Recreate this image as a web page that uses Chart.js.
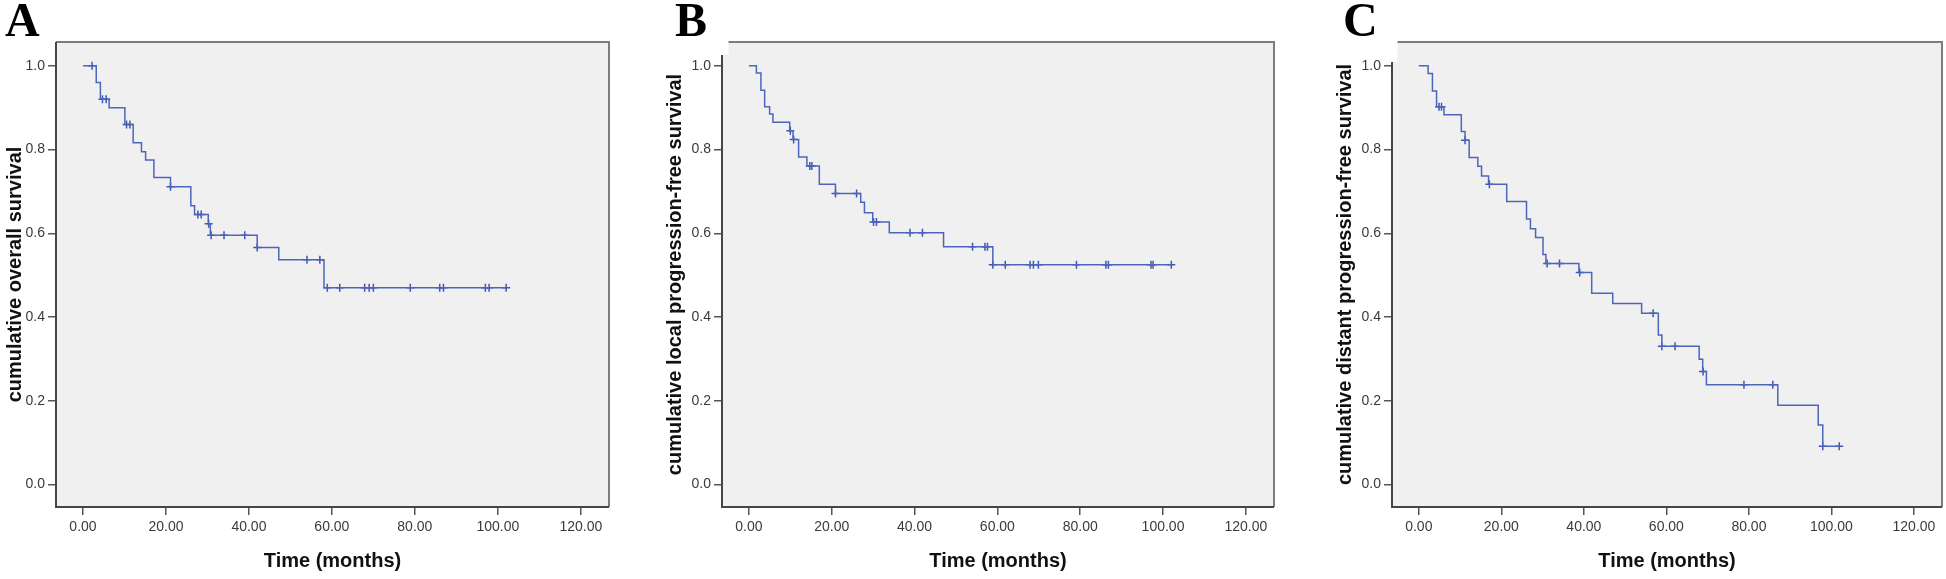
<!DOCTYPE html>
<html>
<head>
<meta charset="utf-8">
<script src="https://cdn.jsdelivr.net/npm/chart.js@4.4.0/dist/chart.umd.min.js"></script>
<style>
  body { margin: 0; background: #fff; width: 1946px; height: 579px; overflow: hidden; position: relative; }
  canvas { position: absolute; top: 0; }
  .lbl { position: absolute; top: -4px; font: bold 48px 'Liberation Serif', 'Times New Roman', serif; line-height: 48px; color: #000; }
</style>
</head>
<body>
<canvas id="chartA" width="650" height="579" style="left:0px"></canvas>
<canvas id="chartB" width="670" height="579" style="left:650px"></canvas>
<canvas id="chartC" width="626" height="579" style="left:1320px"></canvas>
<div class="lbl" style="left:5px">A</div>
<div class="lbl" style="left:675px">B</div>
<div class="lbl" style="left:1343px">C</div>
<script>
// axis ticks
const xTicks = [0, 20, 40, 60, 80, 100, 120];
const yTicks = [0, 0.2, 0.4, 0.6, 0.8, 1.0];

// A: overall survival (step points, censor marks)
const timeA = [0, 3.2, 4.2, 6.3, 10.1, 12.1, 14.1, 15.1, 17.1, 21.1, 26.0, 26.9, 30.2, 30.7, 42.0, 47.2, 58.1, 102.0];
const survA = [1.0, 0.960, 0.920, 0.900, 0.860, 0.816, 0.795, 0.775, 0.733, 0.711, 0.666, 0.645, 0.623, 0.595, 0.566, 0.537, 0.470, 0.470];
const censTimeA = [2.2, 4.7, 5.6, 10.5, 11.3, 21.1, 27.7, 28.5, 30.3, 30.9, 34.0, 39.0, 42.0, 54.0, 57.1, 58.9, 61.9, 67.9, 69.0, 70.0, 78.9, 86.0, 86.9, 97.0, 97.9, 102.0];
const censSurvA = [1.0, 0.920, 0.920, 0.860, 0.860, 0.711, 0.645, 0.645, 0.623, 0.595, 0.595, 0.595, 0.566, 0.537, 0.537, 0.470, 0.470, 0.470, 0.470, 0.470, 0.470, 0.470, 0.470, 0.470, 0.470, 0.470];

// B: local progression-free survival
const timeB = [0, 1.8, 2.9, 3.8, 5.0, 5.8, 9.85, 10.65, 12.0, 14.0, 17.0, 20.9, 27.0, 27.9, 29.9, 33.9, 47.0, 58.9, 102.0];
const survB = [1.0, 0.983, 0.942, 0.902, 0.885, 0.865, 0.845, 0.824, 0.782, 0.761, 0.717, 0.695, 0.674, 0.649, 0.627, 0.601, 0.568, 0.525, 0.525];
const censTimeB = [10.0, 10.8, 14.7, 15.2, 20.9, 26.0, 30.1, 30.8, 38.9, 41.9, 54.0, 57.0, 57.6, 58.9, 61.9, 67.9, 68.7, 69.9, 79.1, 86.2, 86.8, 97.1, 97.6, 102.0];
const censSurvB = [0.845, 0.824, 0.761, 0.761, 0.695, 0.695, 0.627, 0.627, 0.601, 0.601, 0.568, 0.568, 0.568, 0.525, 0.525, 0.525, 0.525, 0.525, 0.525, 0.525, 0.525, 0.525, 0.525, 0.525];

// C: distant progression-free survival
const timeC = [0, 2.25, 3.3, 4.3, 6.1, 10.3, 11.2, 12.2, 14.3, 15.2, 16.9, 21.3, 26.1, 27.05, 28.3, 30.1, 30.8, 38.8, 41.9, 47.0, 54.0, 58.05, 58.9, 67.95, 68.8, 69.7, 87.0, 96.8, 97.9, 102.0];
const survC = [1.0, 0.982, 0.940, 0.902, 0.883, 0.843, 0.822, 0.781, 0.760, 0.737, 0.717, 0.676, 0.634, 0.611, 0.590, 0.549, 0.528, 0.506, 0.457, 0.432, 0.409, 0.357, 0.330, 0.299, 0.270, 0.238, 0.189, 0.142, 0.091, 0.091];
const censTimeC = [4.9, 5.5, 11.2, 17.1, 31.1, 34.1, 39.0, 56.8, 58.9, 62.1, 68.9, 78.8, 85.8, 97.9, 101.9];
const censSurvC = [0.902, 0.902, 0.822, 0.717, 0.528, 0.528, 0.506, 0.409, 0.330, 0.330, 0.270, 0.238, 0.238, 0.091, 0.091];

Chart.defaults.font.family = "'Liberation Sans', Arial, sans-serif";

const lineColor = "#4d66bb";
const markColor = "#3f57b2";
const tickFont = { size: 14 };
const titleFont = { size: 20, weight: "bold" };

let toPoints = (xs, ys) => xs.map((x, i) => ({ x: x, y: ys[i] }));

// grey plot box + frame, and the white notch left by the panel letter
let boxPlugin = (notch) => ({
  id: "panelBox",
  beforeDraw(chart) {
    const { ctx, chartArea: a } = chart;
    ctx.save();
    ctx.fillStyle = "#f0f0f0";
    ctx.fillRect(a.left, a.top, a.right - a.left, a.bottom - a.top);
    ctx.restore();
  },
  afterDraw(chart) {
    const { ctx, chartArea: a } = chart;
    ctx.save();
    ctx.lineWidth = 2;
    ctx.strokeStyle = "#7c7c7c";
    ctx.beginPath();
    ctx.moveTo(a.left, a.top);
    ctx.lineTo(a.right, a.top);
    ctx.lineTo(a.right, a.bottom);
    ctx.stroke();
    ctx.strokeStyle = "#464646";
    ctx.beginPath();
    ctx.moveTo(a.left, a.top);
    ctx.lineTo(a.left, a.bottom);
    ctx.lineTo(a.right, a.bottom);
    ctx.stroke();
    if (notch) {
      ctx.fillStyle = "#fff";
      ctx.fillRect(a.left - 3, 0, notch[0], notch[1]);
    }
    ctx.restore();
  }
});

let makeChart = (id, steps, cens, yTitle, geo) => {
  const ctx = document.getElementById(id);
  const dataset = {
    datasets: [
      {
        data: steps,
        showLine: true,
        stepped: true,
        borderColor: lineColor,
        borderWidth: 1.5,
        pointRadius: 0,
        fill: false
      },
      {
        data: cens,
        showLine: false,
        pointStyle: "cross",
        pointRadius: 4,
        borderColor: markColor,
        backgroundColor: markColor,
        borderWidth: 1.5
      }
    ]
  };
  const config = {
    type: "scatter",
    data: dataset,
    plugins: [boxPlugin(geo.notch)],
    options: {
      responsive: false,
      animation: false,
      layout: { autoPadding: false, padding: { top: 42, right: geo.pr, bottom: 0, left: 0 } },
      plugins: { legend: { display: false }, tooltip: { enabled: false } },
      scales: {
        x: {
          type: "linear",
          min: -6.5,
          max: 126.8,
          afterBuildTicks: (s) => { s.ticks = xTicks.map((v) => ({ value: v })); },
          afterFit: (s) => { s.height = 72; },
          ticks: { callback: (v) => v.toFixed(2), font: tickFont, color: "#3a3a3a", padding: 4, maxRotation: 0, autoSkip: false },
          grid: { drawOnChartArea: false, drawTicks: true, tickLength: 8, color: "#555", lineWidth: 1.5 },
          border: { display: false },
          title: { display: true, text: "Time (months)", font: titleFont, color: "#111", padding: { top: 0, bottom: 6 } }
        },
        y: {
          type: "linear",
          min: -0.054,
          max: 1.057,
          afterBuildTicks: (s) => { s.ticks = yTicks.map((v) => ({ value: v })); },
          afterFit: (s) => { s.width = geo.yw; },
          ticks: { callback: (v) => v.toFixed(1), font: tickFont, color: "#3a3a3a", padding: 3 },
          grid: { drawOnChartArea: false, drawTicks: true, tickLength: 8, color: "#555", lineWidth: 1.5 },
          border: { display: false },
          title: { display: true, text: yTitle, font: titleFont, color: "#111", padding: { top: geo.tp, bottom: 0 } }
        }
      }
    }
  };
  return new Chart(ctx, config);
};

makeChart("chartA", toPoints(timeA, survA), toPoints(censTimeA, censSurvA),
  "cumulative overall survival", { yw: 56, pr: 41, tp: 3, notch: null });
makeChart("chartB", toPoints(timeB, survB), toPoints(censTimeB, censSurvB),
  "cumulative local progression-free survival", { yw: 72, pr: 46, tp: 13, notch: [9.5, 55] });
makeChart("chartC", toPoints(timeC, survC), toPoints(censTimeC, censSurvC),
  "cumulative distant progression-free survival", { yw: 72, pr: 4, tp: 13, notch: [8.5, 62] });
</script>
</body>
</html>
